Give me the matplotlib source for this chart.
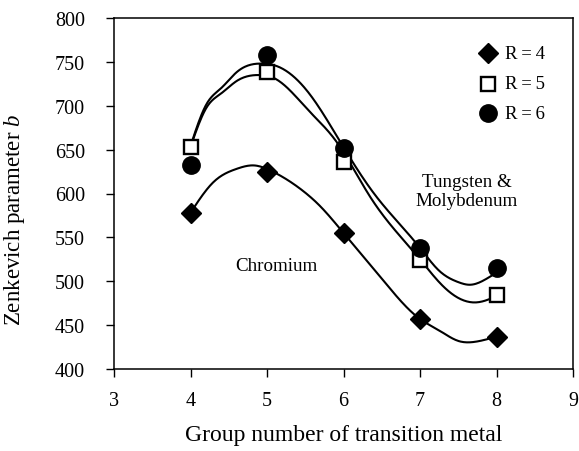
import numpy as np
import matplotlib
matplotlib.use("Agg")
import matplotlib.pyplot as plt

plt.rcParams['font.family'] = ['Liberation Serif', 'DejaVu Serif']
plt.rcParams['mathtext.fontset'] = 'custom'
plt.rcParams['mathtext.rm'] = 'Liberation Serif'
plt.rcParams['mathtext.it'] = 'Liberation Serif:italic'

# measured points
groups = [4, 5, 6, 7, 8]
r4 = [578, 625, 555, 457, 437]
r5 = [653, 738, 636, 524, 484]
r6 = [633, 758, 652, 538, 515]

# trend curves (knots)
r4_cx = [4, 4.3, 4.6, 4.83, 5.05, 5.47, 5.69, 6, 6.5, 7, 7.25, 7.5, 7.72, 8]
r4_cy = [578, 613, 628, 632, 626, 603, 586, 555, 503, 457, 444, 432, 431, 437]
r5_cx = [4, 4.21, 4.4, 4.6, 4.9, 5.08, 5.55, 5.9, 6.35, 7, 7.25, 7.5, 7.75, 8]
r5_cy = [653, 698, 714, 728, 735, 732, 694, 660, 596, 525, 499, 481, 476, 483]
r6_cx = [4, 4.21, 4.4, 4.6, 4.95, 5.1, 5.56, 5.95, 6.39, 7, 7.25, 7.5, 7.65, 7.93]
r6_cy = [654, 702, 720, 738, 748, 746, 713, 660, 601, 538, 512, 499, 496, 506]

labels = ['R\u2009=\u20094', 'R\u2009=\u20095', 'R\u2009=\u20096']


def spline(x, y, xs):
    # natural cubic spline
    x = np.asarray(x, float)
    y = np.asarray(y, float)
    n = len(x)
    h = np.diff(x)
    A = np.zeros((n, n))
    r = np.zeros(n)
    A[0, 0] = A[-1, -1] = 1
    for i in range(1, n - 1):
        A[i, i - 1] = h[i - 1]
        A[i, i] = 2 * (h[i - 1] + h[i])
        A[i, i + 1] = h[i]
        r[i] = 3 * ((y[i + 1] - y[i]) / h[i] - (y[i] - y[i - 1]) / h[i - 1])
    c = np.linalg.solve(A, r)
    b = (y[1:] - y[:-1]) / h - h * (2 * c[:-1] + c[1:]) / 3
    d = (c[1:] - c[:-1]) / (3 * h)
    idx = np.clip(np.searchsorted(x, xs) - 1, 0, n - 2)
    dx = xs - x[idx]
    return y[idx] + b[idx] * dx + c[idx] * dx ** 2 + d[idx] * dx ** 3


fig = plt.figure(figsize=(5.79, 4.52), dpi=100)
ax = fig.add_axes([114 / 579, 1 - 370 / 452, (573 - 114) / 579, (370 - 19) / 452])

for cx, cy in [(r4_cx, r4_cy), (r5_cx, r5_cy), (r6_cx, r6_cy)]:
    xs = np.linspace(cx[0], cx[-1], 300)
    ax.plot(xs, spline(cx, cy, xs), color='black', lw=1.5, zorder=2)

styles = [dict(marker='D', ms=10, color='black'),
          dict(marker='s', ms=9.5, mfc='white', mec='black', mew=1.7),
          dict(marker='o', ms=12.5, color='black')]
for vals, st in zip([r4, r5, r6], styles):
    ax.plot(groups, vals, ls='none', zorder=3, **st)

# legend, drawn by hand in axes coords
leg_y = [0.9, 0.812, 0.729]
for yy, lab, st in zip(leg_y, labels, styles):
    ax.plot([0.815], [yy], ls='none', transform=ax.transAxes, clip_on=False, **st)
    ax.text(0.852, yy, lab, transform=ax.transAxes, fontsize=13.5, va='center', ha='left')

ax.set_xlim(3, 9)
ax.set_ylim(400, 800)
ax.set_xticks(range(3, 10))
ax.set_yticks(range(400, 801, 50))
ax.tick_params(axis='both', direction='out', length=6, width=1, labelsize=14.5)
ax.tick_params(axis='y', pad=15)
ax.tick_params(axis='x', pad=10)
for s in ax.spines.values():
    s.set_linewidth(1.1)

ax.set_xlabel('Group number of transition metal', fontsize=17, labelpad=10)
ax.set_ylabel('Zenkevich parameter $b$', fontsize=16.5)
ax.yaxis.set_label_coords(-0.19, 0.427)

ax.text(5.12, 518, 'Chromium', fontsize=13.7, ha='center', va='center')
ax.text(7.61, 603, 'Tungsten &\nMolybdenum', fontsize=13.7, ha='center', va='center',
        linespacing=1.2)

fig.savefig('out.png', dpi=100)
